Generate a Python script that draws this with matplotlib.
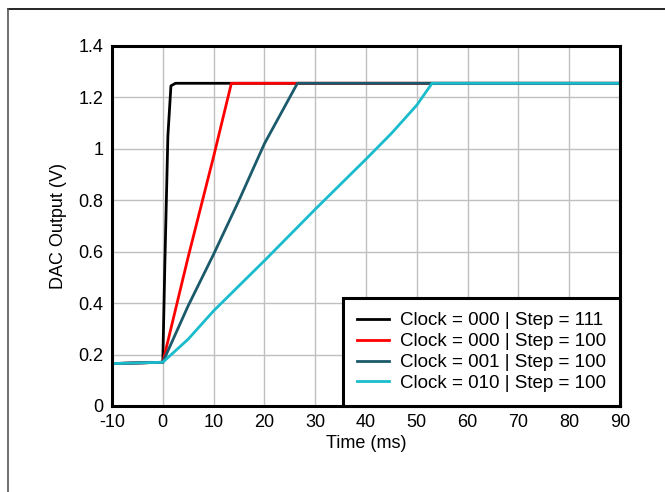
import numpy as np
import matplotlib
matplotlib.use('agg')
import matplotlib.pyplot as plt
from matplotlib.lines import Line2D

plt.rcParams['font.family'] = ['Liberation Sans', 'DejaVu Sans']
plt.rcParams['axes.unicode_minus'] = False

labels = ['Clock = 000 | Step = 111', 'Clock = 000 | Step = 100',
          'Clock = 001 | Step = 100', 'Clock = 010 | Step = 100']
colors = ['#000000', '#ff0000', '#1b5a6b', '#18bccc']

# time (ms) / output (V) breakpoints
t_black = [-10, 0, 0.4, 1.0, 1.6, 2.5, 90]
v_black = [0.165, 0.17, 0.55, 1.05, 1.245, 1.255, 1.255]
t_red = [-10, 0, 5, 10, 13.5, 90]
v_red = [0.165, 0.17, 0.58, 0.97, 1.255, 1.255]
t_teal = [-10, 0, 5, 10, 15, 20, 26.5, 90]
v_teal = [0.165, 0.17, 0.39, 0.59, 0.80, 1.02, 1.255, 1.255]
t_cyan = [-10, 0, 5, 10, 20, 30, 40, 45, 50, 53, 90]
v_cyan = [0.165, 0.17, 0.26, 0.37, 0.565, 0.765, 0.96, 1.06, 1.17, 1.255, 1.255]

series = [(t_black, v_black), (t_red, v_red), (t_teal, v_teal), (t_cyan, v_cyan)]

fig = plt.figure(figsize=(6.65, 4.92), dpi=100)
ax = fig.add_axes([112/665, 1-406/492, (620-112)/665, (406-46)/492])

for (t, v), c in zip(series, colors):
    ax.plot(t, v, color=c, lw=2.0)

ax.set_xlim(-10, 90)
ax.set_ylim(0, 1.4)
ax.set_xticks(np.arange(-10, 91, 10))
ax.set_yticks(np.arange(0, 1.41, 0.2))
ax.set_yticklabels(['0', '0.2', '0.4', '0.6', '0.8', '1', '1.2', '1.4'])
ax.grid(True, color='#c0c0c0', lw=1.0)
ax.set_axisbelow(True)
for s in ax.spines.values():
    s.set_linewidth(2.2)
ax.tick_params(length=0, labelsize=13, pad=6)
ax.set_xlabel('Time (ms)', fontsize=13, labelpad=3)
ax.set_ylabel('DAC Output (V)', fontsize=13, labelpad=8)

handles = [Line2D([], [], color=c, lw=2.0) for c in colors]
leg = ax.legend(handles, labels, loc='lower right', fontsize=13.5,
                fancybox=False, framealpha=1, edgecolor='black',
                borderaxespad=0, handlelength=1.7, labelspacing=0.2,
                borderpad=0.75, handletextpad=0.6)
leg.get_frame().set_linewidth(2.2)

# outer frame lines
fig.add_artist(Line2D([8/665, 1], [1-9/492, 1-9/492], color='black', lw=1.2))
fig.add_artist(Line2D([8/665, 8/665], [0, 1-9/492], color='#555555', lw=1.2))

fig.savefig('out.png', dpi=100)
